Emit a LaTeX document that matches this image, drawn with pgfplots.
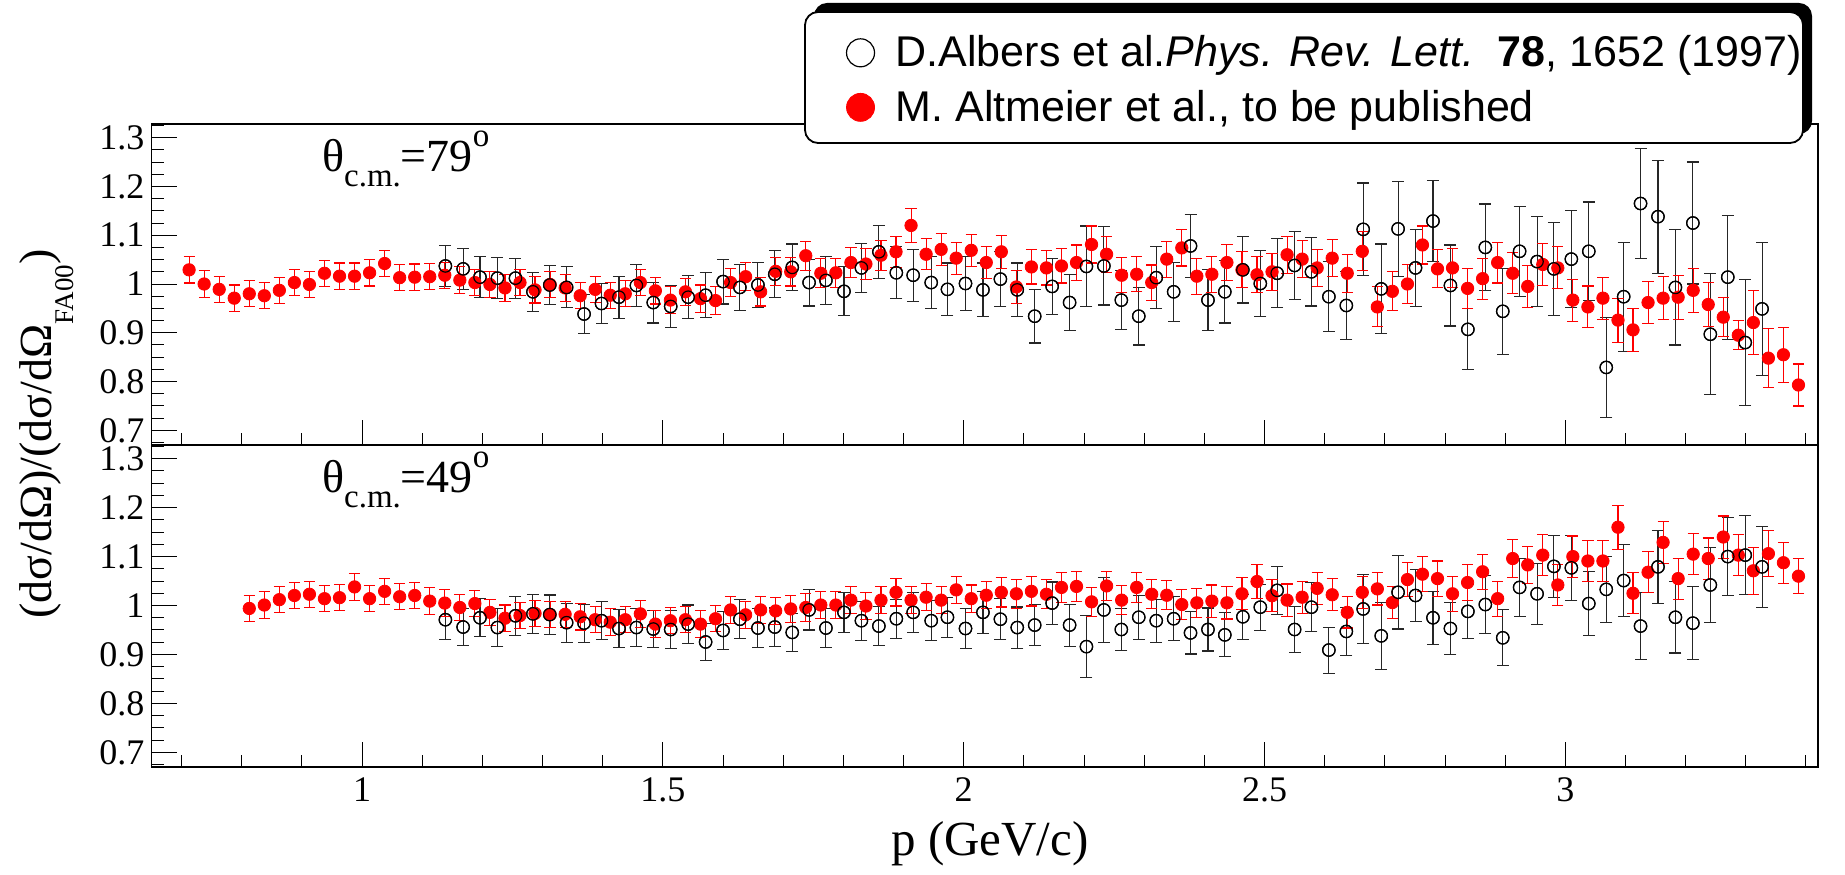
\documentclass[border=0pt]{standalone}
\usepackage{fontspec}
\setmainfont{Liberation Serif}
\setsansfont{Liberation Sans}
\usepackage{pgfplots}
\pgfplotsset{compat=1.18}
\usepackage{pgfplotstable}

% Altmeier et al. (red), theta = 79
\pgfplotstableread{
x y e
0.7125 1.029 0.027
0.7375 1.000 0.027
0.7625 0.989 0.027
0.7875 0.971 0.027
0.8125 0.980 0.027
0.8375 0.976 0.027
0.8625 0.987 0.027
0.8875 1.003 0.027
0.9125 0.999 0.027
0.9375 1.022 0.027
0.9625 1.016 0.027
0.9875 1.016 0.027
1.0125 1.023 0.027
1.0375 1.042 0.027
1.0625 1.013 0.027
1.0875 1.014 0.027
1.1125 1.015 0.027
1.1375 1.018 0.027
1.1625 1.008 0.027
1.1875 1.003 0.027
1.2125 0.999 0.027
1.2375 0.992 0.027
1.2625 1.003 0.027
1.2875 0.988 0.027
1.3125 0.999 0.027
1.3375 0.992 0.027
1.3625 0.976 0.027
1.3875 0.989 0.027
1.4125 0.977 0.027
1.4375 0.980 0.027
1.4625 1.003 0.027
1.4875 0.986 0.027
1.5125 0.967 0.028
1.5375 0.984 0.028
1.5625 0.970 0.028
1.5875 0.966 0.028
1.6125 1.003 0.029
1.6375 1.015 0.029
1.6625 0.984 0.029
1.6875 1.026 0.029
1.7125 1.025 0.029
1.7375 1.058 0.030
1.7625 1.022 0.030
1.7875 1.023 0.030
1.8125 1.044 0.031
1.8375 1.041 0.031
1.8625 1.059 0.031
1.8875 1.066 0.032
1.9125 1.120 0.034
1.9375 1.061 0.032
1.9625 1.071 0.033
1.9875 1.053 0.033
2.0125 1.069 0.033
2.0375 1.044 0.033
2.0625 1.066 0.034
2.0875 0.994 0.034
2.1125 1.035 0.035
2.1375 1.033 0.035
2.1625 1.037 0.035
2.1875 1.044 0.036
2.2125 1.081 0.038
2.2375 1.061 0.037
2.2625 1.018 0.036
2.2875 1.020 0.036
2.3125 1.003 0.036
2.3375 1.051 0.037
2.3625 1.074 0.037
2.3875 1.016 0.037
2.4125 1.020 0.037
2.4375 1.044 0.037
2.4625 1.029 0.037
2.4875 1.019 0.037
2.5125 1.025 0.038
2.5375 1.060 0.038
2.5625 1.051 0.038
2.5875 1.033 0.038
2.6125 1.053 0.038
2.6375 1.022 0.039
2.6625 1.067 0.040
2.6875 0.953 0.041
2.7125 0.985 0.040
2.7375 1.000 0.040
2.7625 1.080 0.039
2.7875 1.031 0.039
2.8125 1.033 0.040
2.8375 0.991 0.041
2.8625 1.011 0.042
2.8875 1.044 0.042
2.9125 1.022 0.042
2.9375 0.995 0.043
2.9625 1.040 0.043
2.9875 1.033 0.043
3.0125 0.967 0.043
3.0375 0.953 0.043
3.0625 0.971 0.043
3.0875 0.926 0.045
3.1125 0.906 0.044
3.1375 0.962 0.043
3.1625 0.971 0.044
3.1875 0.973 0.045
3.2125 0.987 0.045
3.2375 0.958 0.045
3.2625 0.932 0.040
3.2875 0.895 0.030
3.3125 0.921 0.065
3.3375 0.848 0.060
3.3625 0.855 0.056
3.3875 0.793 0.043
}\redtop

% Albers et al. (open), theta = 79
\pgfplotstableread{
x y e
1.1385 1.037 0.042
1.168 1.031 0.042
1.196 1.014 0.042
1.225 1.012 0.042
1.255 1.012 0.041
1.284 0.984 0.040
1.312 0.998 0.040
1.340 0.993 0.042
1.369 0.9385 0.040
1.398 0.960 0.041
1.427 0.973 0.043
1.456 0.997 0.043
1.484 0.962 0.042
1.513 0.954 0.043
1.542 0.973 0.044
1.571 0.977 0.046
1.600 1.005 0.046
1.628 0.993 0.047
1.658 0.998 0.047
1.686 1.020 0.048
1.715 1.034 0.048
1.743 1.003 0.048
1.771 1.0075 0.049
1.801 0.985 0.050
1.830 1.033 0.050
1.859 1.066 0.054
1.888 1.023 0.053
1.916 1.018 0.053
1.946 1.003 0.054
1.973 0.989 0.054
2.003 1.001 0.056
2.032 0.988 0.055
2.061 1.010 0.056
2.089 0.988 0.055
2.118 0.934 0.055
2.147 0.995 0.058
2.176 0.962 0.058
2.204 1.036 0.083
2.233 1.037 0.080
2.262 0.967 0.060
2.291 0.934 0.059
2.320 1.013 0.063
2.349 0.984 0.061
2.377 1.078 0.065
2.406 0.967 0.063
2.434 0.984 0.064
2.464 1.029 0.068
2.493 1.001 0.068
2.521 1.022 0.071
2.550 1.038 0.070
2.578 1.025 0.070
2.607 0.974 0.072
2.636 0.956 0.070
2.664 1.112 0.095
2.694 0.990 0.092
2.722 1.113 0.098
2.751 1.033 0.079
2.780 1.129 0.083
2.809 0.997 0.083
2.838 0.907 0.083
2.867 1.075 0.089
2.896 0.944 0.088
2.924 1.067 0.092
2.953 1.046 0.093
2.981 1.031 0.096
3.010 1.051 0.099
3.039 1.067 0.101
3.068 0.829 0.102
3.097 0.974 0.112
3.125 1.165 0.112
3.154 1.138 0.116
3.183 0.993 0.118
3.212 1.125 0.125
3.241 0.897 0.124
3.270 1.014 0.127
3.299 0.880 0.129
3.327 0.949 0.136
}\blacktop

% Altmeier et al. (red), theta = 49
\pgfplotstableread{
x y e
0.8125 0.994 0.027
0.8375 1.001 0.027
0.8625 1.012 0.027
0.8875 1.0205 0.027
0.9125 1.023 0.027
0.9375 1.014 0.027
0.9625 1.016 0.027
0.9875 1.038 0.027
1.0125 1.014 0.027
1.0375 1.029 0.027
1.0625 1.018 0.027
1.0875 1.0205 0.027
1.1125 1.009 0.027
1.1375 1.005 0.027
1.1625 0.996 0.027
1.1875 1.004 0.027
1.2125 0.986 0.027
1.2375 0.974 0.027
1.2625 0.9795 0.027
1.2875 0.984 0.027
1.3125 0.9815 0.027
1.3375 0.982 0.027
1.3625 0.977 0.027
1.3875 0.971 0.027
1.4125 0.966 0.027
1.4375 0.971 0.027
1.4625 0.983 0.027
1.4875 0.962 0.027
1.5125 0.969 0.027
1.5375 0.971 0.027
1.5625 0.962 0.027
1.5875 0.973 0.027
1.6125 0.991 0.028
1.6375 0.981 0.028
1.6625 0.991 0.028
1.6875 0.989 0.028
1.7125 0.993 0.028
1.7375 0.996 0.028
1.7625 1.001 0.028
1.7875 1.001 0.028
1.8125 1.011 0.028
1.8375 0.999 0.028
1.8625 1.011 0.028
1.8875 1.027 0.028
1.9125 1.011 0.028
1.9375 1.017 0.028
1.9625 1.011 0.028
1.9875 1.032 0.028
2.0125 1.014 0.028
2.0375 1.021 0.028
2.0625 1.027 0.030
2.0875 1.024 0.030
2.1125 1.029 0.030
2.1375 1.023 0.030
2.1625 1.037 0.030
2.1875 1.039 0.030
2.2125 1.0075 0.030
2.2375 1.040 0.030
2.2625 1.011 0.030
2.2875 1.037 0.030
2.3125 1.023 0.030
2.3375 1.021 0.030
2.3625 1.002 0.030
2.3875 1.0055 0.030
2.4125 1.009 0.033
2.4375 1.0055 0.033
2.4625 1.024 0.033
2.4875 1.049 0.034
2.5125 1.020 0.033
2.5375 1.011 0.033
2.5625 1.017 0.033
2.5875 1.035 0.033
2.6125 1.022 0.033
2.6375 0.986 0.032
2.6625 1.027 0.033
2.6875 1.034 0.033
2.7125 1.006 0.033
2.7375 1.053 0.034
2.7625 1.064 0.036
2.7875 1.055 0.036
2.8125 1.024 0.036
2.8375 1.047 0.036
2.8625 1.069 0.036
2.8875 1.014 0.036
2.9125 1.096 0.038
2.9375 1.083 0.038
2.9625 1.103 0.042
2.9875 1.042 0.042
3.0125 1.100 0.042
3.0375 1.091 0.042
3.0625 1.091 0.042
3.0875 1.160 0.045
3.1125 1.025 0.042
3.1375 1.068 0.042
3.1625 1.129 0.043
3.1875 1.055 0.042
3.2125 1.105 0.042
3.2375 1.096 0.042
3.2625 1.140 0.043
3.2875 1.103 0.042
3.3125 1.071 0.048
3.3375 1.106 0.047
3.3625 1.0875 0.042
3.3875 1.060 0.036
}\redbot

% Albers et al. (open), theta = 49
\pgfplotstableread{
x y e
1.1385 0.971 0.040
1.168 0.956 0.038
1.196 0.975 0.039
1.225 0.955 0.038
1.255 0.979 0.040
1.284 0.983 0.040
1.312 0.9815 0.040
1.340 0.965 0.040
1.369 0.964 0.039
1.398 0.969 0.039
1.427 0.953 0.038
1.456 0.955 0.038
1.484 0.952 0.038
1.513 0.951 0.038
1.542 0.962 0.039
1.571 0.9255 0.038
1.600 0.949 0.039
1.628 0.972 0.040
1.658 0.954 0.039
1.686 0.956 0.039
1.715 0.945 0.039
1.743 0.991 0.041
1.771 0.954 0.040
1.801 0.986 0.041
1.830 0.969 0.040
1.859 0.958 0.040
1.888 0.973 0.040
1.916 0.986 0.041
1.946 0.969 0.041
1.973 0.976 0.041
2.003 0.953 0.041
2.032 0.986 0.043
2.061 0.972 0.042
2.089 0.955 0.042
2.118 0.960 0.042
2.147 1.005 0.043
2.176 0.960 0.043
2.204 0.916 0.064
2.233 0.991 0.067
2.262 0.951 0.043
2.291 0.976 0.045
2.320 0.969 0.044
2.349 0.973 0.045
2.377 0.944 0.043
2.406 0.951 0.044
2.434 0.940 0.045
2.464 0.977 0.046
2.493 0.9966 0.047
2.521 1.031 0.049
2.550 0.951 0.047
2.578 0.9966 0.050
2.607 0.909 0.047
2.636 0.947 0.049
2.664 0.993 0.071
2.694 0.938 0.069
2.722 1.027 0.075
2.751 1.0205 0.054
2.780 0.975 0.054
2.809 0.953 0.053
2.838 0.988 0.056
2.867 1.002 0.059
2.896 0.934 0.057
2.924 1.037 0.060
2.953 1.024 0.062
2.981 1.080 0.064
3.010 1.077 0.066
3.039 1.004 0.066
3.068 1.033 0.068
3.097 1.051 0.073
3.125 0.958 0.069
3.154 1.079 0.074
3.183 0.976 0.073
3.212 0.964 0.074
3.241 1.042 0.077
3.270 1.100 0.080
3.299 1.103 0.081
3.327 1.079 0.083
}\blackbot

\pgfplotsset{
  panel/.style={
    scale only axis, width=833.25pt, height=160.5pt,
    xmin=0.65, xmax=3.42, ymin=0.67, ymax=1.328,
    xtick={1,1.5,2,2.5,3},
    minor xtick={0.7,0.8,0.9,1.1,1.2,1.3,1.4,1.6,1.7,1.8,1.9,2.1,2.2,2.3,2.4,2.6,2.7,2.8,2.9,3.1,3.2,3.3,3.4},
    ytick={0.7,0.8,0.9,1,1.1,1.2,1.3},
    minor ytick={0.675,0.725,0.75,0.775,0.825,0.85,0.875,0.925,0.95,0.975,1.025,1.05,1.075,1.125,1.15,1.175,1.225,1.25,1.275,1.325},
    xtick pos=bottom, ytick pos=left, tick align=inside,
    major tick length=12.5pt, minor tick length=6pt,
    every tick/.style={black, line width=0.5pt},
    axis line style={black, line width=0.8pt},
    ticklabel style={font=\fontsize{18}{18}\selectfont},
    xticklabel style={yshift=-2pt},
    /pgf/number format/assume math mode=true,
    /pgf/number format/fixed,
  },
  blackpts/.style={black, only marks, mark=o, mark size=3.1pt,
    mark options={fill=white, line width=0.6pt},
    error bars/y dir=both, error bars/y explicit,
    error bars/error bar style={black!85, line width=0.55pt},
    error bars/error mark options={rotate=90, mark size=3pt, black!85, line width=0.55pt}},
  redpts/.style={red, only marks, mark=*, mark size=3.1pt,
    mark options={fill=red, draw=red},
    error bars/y dir=both, error bars/y explicit,
    error bars/error bar style={red, line width=0.55pt},
    error bars/error mark options={rotate=90, mark size=2.8pt, red, line width=0.55pt}},
  blackring/.style={black, only marks, mark=o, mark size=3.1pt,
    mark options={fill=none, line width=0.6pt}},
}

\begin{document}
\begin{tikzpicture}
\path (0,0) rectangle (922.5pt,437pt);

% top panel (theta = 79)
\begin{axis}[panel, at={(75.75pt,214.5pt)}, anchor=south west, xticklabels={}]
\addplot[blackpts] table[x=x, y=y, y error=e]{\blacktop};
\addplot[redpts] table[x=x, y=y, y error=e]{\redtop};
\addplot[blackring] table[x=x, y=y]{\blacktop};
\end{axis}

% legend frame with shadow (drawn over the top panel frame)
\fill[black, rounded corners=6.5pt] (407pt,370pt) rectangle (906pt,435.5pt);
\draw[fill=white, line width=0.9pt, rounded corners=6.5pt] (402.5pt,365.5pt) rectangle (901.5pt,431pt);

% bottom panel (theta = 49), carries the legend
\begin{axis}[panel, at={(75.75pt,53.5pt)}, anchor=south west, height=161pt,
  legend image code/.code={\path[draw=none, fill=none] (0pt,0pt) (42.5pt,0pt);
    \draw[#1, mark size=7pt] plot coordinates {(26.9pt,0pt)};},
  legend style={at={(axis description cs:0.9952,2.322)}, anchor=north east,
    draw=none, fill=none,
    font=\sffamily\fontsize{21.5}{21.5}\selectfont,
    inner xsep=2pt, inner ysep=6pt, row sep=6.2pt,
    nodes={inner sep=2pt}},
  legend cell align=left,
]
\addplot[blackpts] table[x=x, y=y, y error=e]{\blackbot};
\addlegendentry{D.Albers et al.\textit{Phys. Rev. Lett.}\ \ \textbf{78}, 1652 (1997)}
\addplot[redpts] table[x=x, y=y, y error=e]{\redbot};
\addlegendentry{M. Altmeier et al., to be published}
\addplot[blackring, forget plot] table[x=x, y=y]{\blackbot};
\end{axis}

% panel labels
\node[anchor=base west, inner sep=0pt, font=\fontsize{23}{23}\selectfont] at (160.85pt,351.15pt)
  {θ\raisebox{-7.5pt}{\fontsize{16.5}{16.5}\selectfont c.m.}=79\raisebox{12.5pt}{\fontsize{16.5}{16.5}\selectfont o}};
\node[anchor=base west, inner sep=0pt, font=\fontsize{23}{23}\selectfont] at (160.85pt,190.85pt)
  {θ\raisebox{-7.5pt}{\fontsize{16.5}{16.5}\selectfont c.m.}=49\raisebox{12.5pt}{\fontsize{16.5}{16.5}\selectfont o}};

% axis titles
\node[rotate=90, anchor=base, inner sep=0pt, font=\fontsize{23}{23}\selectfont] at (25.5pt,220pt)
  {(dσ/dΩ)/(dσ/dΩ\raisebox{-11pt}{\fontsize{13.5}{13.5}\selectfont FA00})};
\node[anchor=base west, inner sep=0pt, font=\fontsize{24.5}{24.5}\selectfont] at (445.5pt,9.5pt) {p (GeV/c)};
\end{tikzpicture}
\end{document}
